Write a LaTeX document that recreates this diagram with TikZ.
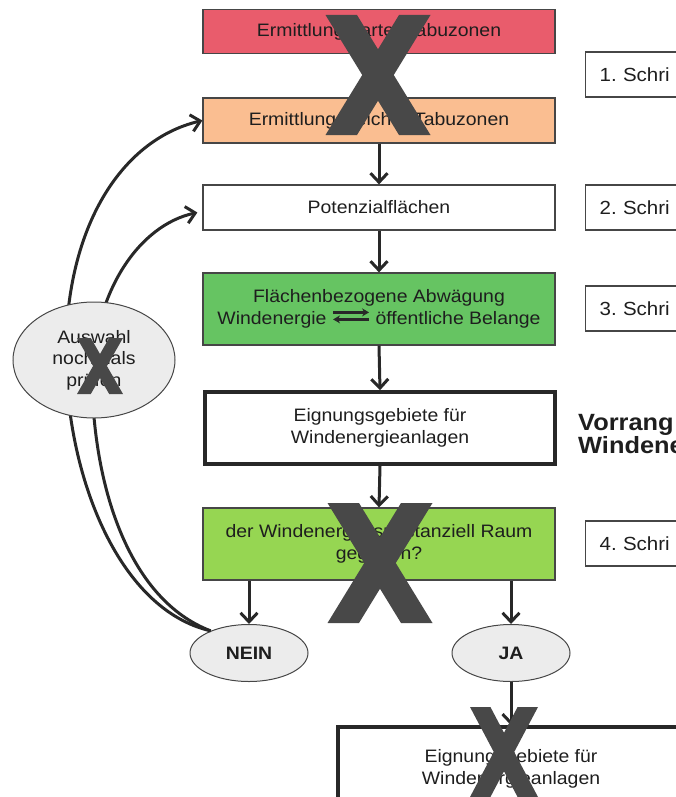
\documentclass[tikz,border=0pt]{standalone}
\usepackage{fontspec}
\setmainfont{Liberation Sans}[FakeStretch=1.08]
\usetikzlibrary{arrows.meta,shapes.geometric}
\definecolor{redbox}{RGB}{233,92,108}
\definecolor{peach}{RGB}{250,190,145}
\definecolor{greenA}{RGB}{102,196,98}
\definecolor{greenB}{RGB}{150,214,82}
\definecolor{ellfill}{RGB}{236,236,236}
\definecolor{linec}{RGB}{40,40,40}
\definecolor{bordc}{RGB}{70,70,70}
\definecolor{xcol}{RGB}{72,72,72}
\definecolor{txt}{RGB}{30,30,30}
\frenchspacing
\tikzset{
  basefont/.style={font=\fontsize{18}{21.5}\selectfont, text=txt},
  box/.style={basefont, draw=bordc, line width=1.2pt, minimum width=352pt, minimum height=45pt, inner sep=0pt, align=center},
  thickbox/.style={box, line width=3.5pt, draw=linec, fill=white},
  oval/.style={basefont, ellipse, draw=bordc, line width=1pt, fill=ellfill, inner sep=0pt, align=center},
  boldoval/.style={oval, font=\bfseries\fontsize{18}{21.5}\selectfont},
  flow/.style={draw=linec, line width=3pt, -{Straight Barb[length=9pt,width=17pt]}},
  stepbox/.style={basefont, font=\fontsize{19}{21.5}\selectfont, draw=bordc, line width=1.2pt, anchor=west, minimum height=45pt, inner xsep=14pt, text width=120pt, align=left},
  sidetext/.style={font=\bfseries\fontsize{23.5}{23}\selectfont, text=txt, anchor=base west, inner sep=0pt},
  bigx/.pic={
    \fill[xcol] (-0.5,-0.5) -- (-0.2,-0.5) -- (0.5,0.5) -- (0.2,0.5) -- cycle;
    \fill[xcol] (0.5,-0.5) -- (0.2,-0.5) -- (-0.5,0.5) -- (-0.2,0.5) -- cycle;
  }
}
\begin{document}
\begin{tikzpicture}[x=1pt,y=-1pt]
\useasboundingbox (0,0) rectangle (676,797);
\clip (0,0) rectangle (676,797);

% main column
\node[box, fill=redbox, minimum height=44pt] (b1) at (379,31.5) {Ermittlung harter Tabuzonen};
\node[box, fill=peach] (b2) at (379,120.5) {Ermittlung weicher Tabuzonen};
\node[box, fill=white] (b3) at (379,207.5) {Potenzialflächen};
\node[box, fill=greenA, minimum height=72pt] (b4) at (379,309) {Flächenbezogene Abwägung\\Windenergie \tikz[baseline=0pt,x=1pt,y=1pt]{\draw[linec,line width=2.2pt,-{Stealth[length=7pt,width=8pt]}] (0,12) -- (36,12); \draw[linec,line width=2.2pt,-{Stealth[length=7pt,width=8pt]}] (36,5) -- (0,5);} öffentliche Belange};
\node[thickbox, minimum width=350pt, minimum height=72pt] (b5) at (380,428) {Eignungsgebiete für\\Windenergieanlagen};
\node[box, fill=greenB, minimum height=72pt] (b6) at (379,544) {der Windenergie substanziell Raum\\gegeben?};

% decision ovals
\node[boldoval, minimum width=118pt, minimum height=57pt] (nein) at (249,653) {NEIN};
\node[boldoval, minimum width=118pt, minimum height=57pt] (ja) at (511,653) {JA};
\node[thickbox, minimum width=346pt, minimum height=84pt] (final) at (511,769) {Eignungsgebiete für\\Windenergieanlagen};

% straight arrows
\draw[flow] (b1.south) -- (b2.north);
\draw[flow] (b2.south) -- (b3.north);
\draw[flow] (b3.south) -- (b4.north);
\draw[flow] (b4.south) -- (b5.north);
\draw[flow] (b5.south) -- (b6.north);
\draw[flow] (b6.south -| nein.north) -- (nein.north);
\draw[flow] (b6.south -| ja.north) -- (ja.north);
\draw[flow] (ja.south) -- (final.north);

% feedback curves
\coordinate (m1) at (66,360);
\coordinate (m2) at (92,380);
\draw[flow] (nein.150) .. controls (120,610) and (68,480) .. (m1) .. controls (64,230) and (120,140) .. (b2.west);
\draw[flow] (nein.150) .. controls (130,600) and (94,490) .. (m2) .. controls (94,290) and (140,225) .. ([xshift=-5pt,yshift=-5pt]b3.west);

% check oval
\node[oval, minimum width=162pt, minimum height=116pt] (check) at (94,360) {Auswahl\\nochmals\\prüfen};

% step boxes
\node[stepbox] (s1) at (585,74.5) {1. Schri};
\node[stepbox] (s2) at (585,207.5) {2. Schri};
\node[stepbox] (s3) at (585,308.5) {3. Schri};
\node[stepbox] (s4) at (585,543.5) {4. Schri};
\node[sidetext] (v1) at (578,430) {Vorrang};
\node[sidetext] (v2) at (578,453) {Windene};

% crosses
\pic[xscale=105,yscale=120] at (378,75) {bigx};
\pic[xscale=105,yscale=120] at (380,563) {bigx};
\pic[xscale=68,yscale=90] at (504,752) {bigx};
\pic[xscale=46,yscale=56] at (100,366) {bigx};
\end{tikzpicture}
\end{document}
